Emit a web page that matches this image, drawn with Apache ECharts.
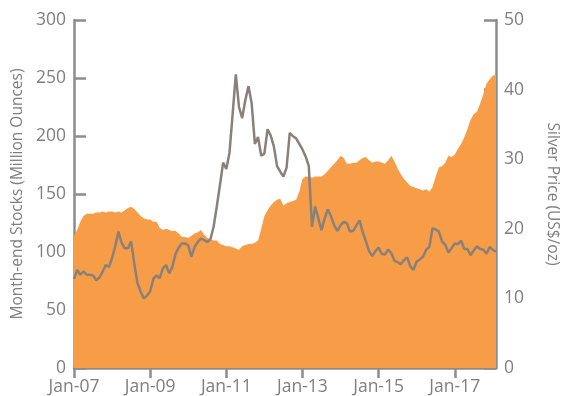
<!DOCTYPE html>
<html>
<head>
<meta charset="utf-8">
<script src="https://cdn.jsdelivr.net/npm/echarts@6/dist/echarts.min.js"></script>
<style>
html,body{margin:0;padding:0;background:#fff;}
#chart{width:563px;height:396px;}
</style>
</head>
<body>
<div id="chart"></div>
<script>
// Categories: months Jan-2007 .. Feb-2018
var monthNames = ['Jan','Feb','Mar','Apr','May','Jun','Jul','Aug','Sep','Oct','Nov','Dec'];
var startYear = 2007, monthCount = 134;
var categories = [];
for (var k = 0; k < monthCount; k++) {
  var y = startYear + Math.floor(k / 12);
  categories.push(monthNames[k % 12] + '-' + String(y).slice(2));
}

// Month-end stocks (Million Ounces), left axis
var stocks = [
  114,119,126,131,133,133,133,134,134,135,134,135,
  135,134,135,134,136,138,139,137,134,131,129,128,
  128,126,126,121,119,120,119,118,118,116,113,113,
  112,114,116,117,119,115,112,111,110,110,107,106,
  105,105,104,103,102,105,106,107,107,108,110,120,
  131,136,140,143,145,146,140,142,143,144,145,152,
  163,165,165,164,165,165,165,167,170,173,176,179,
  183,181,176,176,177,177,179,181,182,179,177,178,
  178,177,176,179,183,178,172,167,163,160,157,156,
  155,154,153,154,152,156,165,173,174,177,183,182,
  184,189,193,199,206,214,219,221,228,236,245,249,
  252,253
];

// Silver price (US$/oz), right axis
var silver = [
  12.8,14.1,13.4,13.9,13.4,13.4,13.3,12.6,13.0,13.8,14.8,14.5,
  15.8,17.5,19.6,18.0,17.2,17.2,18.2,15.0,12.2,11.0,10.0,10.4,
  11.0,12.8,13.3,12.9,14.3,14.8,13.6,14.5,16.4,17.3,17.9,17.9,
  17.6,16.0,17.4,18.1,18.6,18.4,18.1,18.5,20.3,23.2,26.3,29.5,
  28.6,30.9,36.5,42.2,37.5,35.9,38.5,40.5,38.0,32.2,33.2,30.5,
  30.8,34.3,33.4,31.8,29.0,28.2,27.5,28.8,33.8,33.3,33.0,32.2,
  31.4,30.4,29.0,20.3,23.2,21.5,19.8,21.5,22.8,21.8,20.5,19.7,
  20.5,21.0,20.8,19.6,19.7,20.5,21.2,19.5,18.2,16.8,16.1,16.8,
  17.3,16.4,16.3,17.0,16.5,15.4,15.2,14.9,15.5,15.9,14.6,14.1,
  15.3,15.6,16.0,17.0,17.4,20.1,19.9,19.6,18.2,17.7,16.6,17.2,
  17.9,17.8,18.3,17.1,17.1,16.2,16.9,17.5,17.1,17.0,16.4,17.4,
  17.0,16.7
];

var leftTicks = {min: 0, max: 300, interval: 50};
var rightTicks = {min: 0, max: 50, interval: 10};

var axisGray = '#8c8c8c';
var textGray = '#7f7f7f';
var fontFam = 'Open Sans';

var chart = echarts.init(document.getElementById('chart'));
chart.setOption({
  animation: false,
  grid: {left: 74, right: 67, top: 20, bottom: 28, containLabel: false, outerBoundsMode: 'none'},
  xAxis: {
    type: 'category',
    data: categories,
    boundaryGap: false,
    axisLine: {lineStyle: {color: axisGray, width: 2.5}},
    axisTick: {show: true, inside: false, length: 10, lineStyle: {color: axisGray, width: 2.5},
      interval: function (i) { return i % 24 === 0; }},
    axisLabel: {color: textGray, fontFamily: fontFam, fontSize: 17.5, margin: 10,
      interval: function (i) { return i % 24 === 0; }},
    splitLine: {show: false}
  },
  yAxis: [
    {
      type: 'value', position: 'left',
      min: leftTicks.min, max: leftTicks.max, interval: leftTicks.interval,
      name: 'Month-end Stocks (Million Ounces)',
      nameLocation: 'middle', nameGap: 47,
      nameTextStyle: {color: textGray, fontFamily: fontFam, fontSize: 15.5},
      axisLine: {show: true, lineStyle: {color: axisGray, width: 2.5}},
      axisTick: {show: true, inside: true, length: 12, lineStyle: {color: axisGray, width: 2.5}},
      axisLabel: {color: textGray, fontFamily: fontFam, fontSize: 17.5, margin: 8},
      splitLine: {show: false}
    },
    {
      type: 'value', position: 'right',
      min: rightTicks.min, max: rightTicks.max, interval: rightTicks.interval,
      name: 'Silver Price (US$/oz)',
      nameLocation: 'middle', nameGap: 48, nameRotate: -90,
      nameTextStyle: {color: textGray, fontFamily: fontFam, fontSize: 15.5},
      axisLine: {show: true, lineStyle: {color: axisGray, width: 2.5}},
      axisTick: {show: true, inside: true, length: 12, lineStyle: {color: axisGray, width: 2.5}},
      axisLabel: {color: textGray, fontFamily: fontFam, fontSize: 17.5, margin: 8},
      splitLine: {show: false}
    }
  ],
  series: [
    {
      type: 'line', yAxisIndex: 0, data: stocks,
      symbol: 'none', lineStyle: {width: 0},
      areaStyle: {color: '#F79D48', opacity: 1},
      z: 1
    },
    {
      type: 'line', yAxisIndex: 1, data: silver,
      symbol: 'none',
      lineStyle: {color: '#8a807b', width: 2.5},
      z: 3
    }
  ]
});
</script>
</body>
</html>
